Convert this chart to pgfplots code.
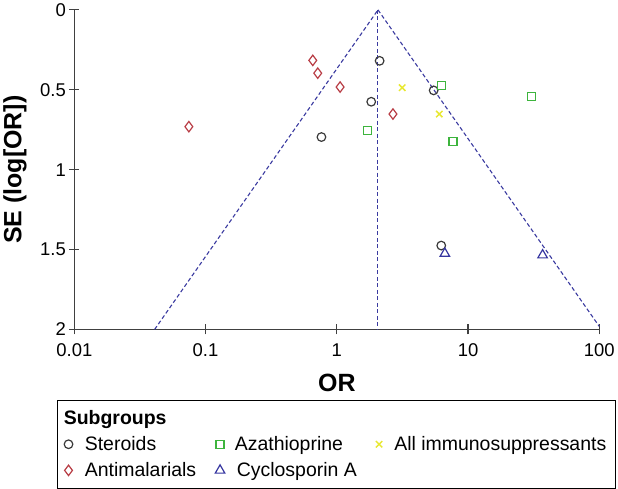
\documentclass[border=0pt]{standalone}
\usepackage{pgfplots}
\pgfplotsset{compat=1.18}
\usepackage{fontspec}
\setmainfont{Liberation Sans}
\definecolor{axisgray}{HTML}{404040}
\definecolor{cst}{HTML}{3A3A3A}
\definecolor{cam}{HTML}{B83C44}
\definecolor{caz}{HTML}{3DB43D}
\definecolor{cim}{HTML}{E8E832}
\definecolor{ccy}{HTML}{3535A0}
\definecolor{cfun}{HTML}{3A3AA0}
\begin{document}
\begin{tikzpicture}
\begin{axis}[
  scale only axis, width=524bp, height=319bp,
  xmode=log, xmin=0.01, xmax=100,
  ymin=0, ymax=2, y dir=reverse,
  axis x line*=bottom, axis y line*=left,
  axis line style={-, draw=axisgray, line width=1.2bp},
  xtick={0.01,0.1,1,10,100}, xticklabels={0.01,0.1,1,10,100},
  ytick={0,0.5,1,1.5,2}, yticklabels={0,0.5,1,1.5,2},
  xminorticks=false, yminorticks=false,
  tick align=center, major tick length=10bp,
  tick style={axisgray, line width=1.2bp},
  /pgf/number format/assume math mode=true,
  ticklabel style={font=\fontsize{18.5}{21}\selectfont},
  xticklabel style={yshift=-6bp},
  xlabel={\bfseries OR}, ylabel={\bfseries SE (log[OR])},
  label style={font=\fontsize{25}{28}\selectfont},
  xlabel style={at={(axis description cs:0.5,-0.168)}, anchor=center},
  ylabel style={at={(axis description cs:-0.113,0.5)}, anchor=center, rotate=0},
  clip=false,
  legend columns=3,
  legend image code/.code={\draw[#1] plot coordinates {(0bp,0bp)};},
  legend style={at={(axis description cs:0.499,-0.2200)}, anchor=north,
    draw=black, line width=1.2bp, font=\fontsize{19.5}{22}\selectfont,
    /tikz/every odd column/.append style={column sep=4bp},
    /tikz/every even column/.append style={column sep=17bp},
    row sep=6.5bp, inner xsep=7bp, inner ysep=8bp},
  legend cell align=left,
]
\addplot[cfun, dash pattern=on 4bp off 2.5bp, line width=1.1bp, forget plot] coordinates {(0.0409,2) (2.06,0)};
\addplot[cfun, dash pattern=on 4bp off 2.5bp, line width=1.1bp, forget plot] coordinates {(2.06,0) (100,1.981)};
\addplot[cfun, dash pattern=on 4bp off 2.5bp, line width=1bp, forget plot] coordinates {(2.06,0) (2.06,2)};

\addplot[only marks, mark=o, mark size=4.3bp, cst, line width=1.2bp, mark options={draw=cst, fill=none, solid}, forget plot] coordinates {
(0.764,0.796) (2.12,0.319) (1.83,0.575) (5.47,0.504) (6.25,1.475)};
\addplot[only marks, mark=diamond, mark size=5.2bp, cam, line width=1.2bp, mark options={draw=cam, fill=none, solid}, forget plot] coordinates {
(0.656,0.316) (0.716,0.396) (1.06,0.483) (0.0746,0.731) (2.68,0.652)};
\addplot[only marks, mark=square, mark size=4bp, caz, line width=1.3bp, mark options={draw=caz, fill=none, solid}, forget plot] coordinates {
(1.71,0.754) (6.30,0.474) (7.68,0.825) (30.4,0.541)};
\addplot[only marks, mark=x, mark size=4.5bp, cim, line width=1.5bp, mark options={draw=cim, solid}, forget plot] coordinates {
(3.15,0.487) (6.04,0.652)};
\addplot[only marks, mark=triangle, mark size=5.5bp, ccy, line width=1.2bp, mark options={draw=ccy, fill=none, solid}, forget plot] coordinates {
(6.66,1.525) (37.0,1.535)};

\addlegendimage{empty legend}
\addlegendentry{\hspace*{-15bp}\textbf{Subgroups}}
\addlegendimage{empty legend}
\addlegendentry{\phantom{x}}
\addlegendimage{empty legend}
\addlegendentry{\phantom{x}}
\addlegendimage{only marks, mark=o, mark size=4.3bp, cst, line width=1.2bp, mark options={draw=cst, fill=none}}
\addlegendentry{\hspace*{6bp}Steroids}
\addlegendimage{only marks, mark=square, mark size=4bp, caz, line width=1.3bp, mark options={draw=caz, fill=none}}
\addlegendentry{\hspace*{4bp}Azathioprine}
\addlegendimage{only marks, mark=x, mark size=4.5bp, cim, line width=1.5bp, mark options={draw=cim}}
\addlegendentry{\hspace*{6bp}All immunosuppressants}
\addlegendimage{only marks, mark=diamond, mark size=5.2bp, cam, line width=1.2bp, mark options={draw=cam, fill=none}}
\addlegendentry{\hspace*{6bp}Antimalarials}
\addlegendimage{only marks, mark=triangle, mark size=5.5bp, ccy, line width=1.2bp, mark options={draw=ccy, fill=none}}
\addlegendentry{\hspace*{6bp}Cyclosporin A}
\end{axis}
\end{tikzpicture}
\end{document}
